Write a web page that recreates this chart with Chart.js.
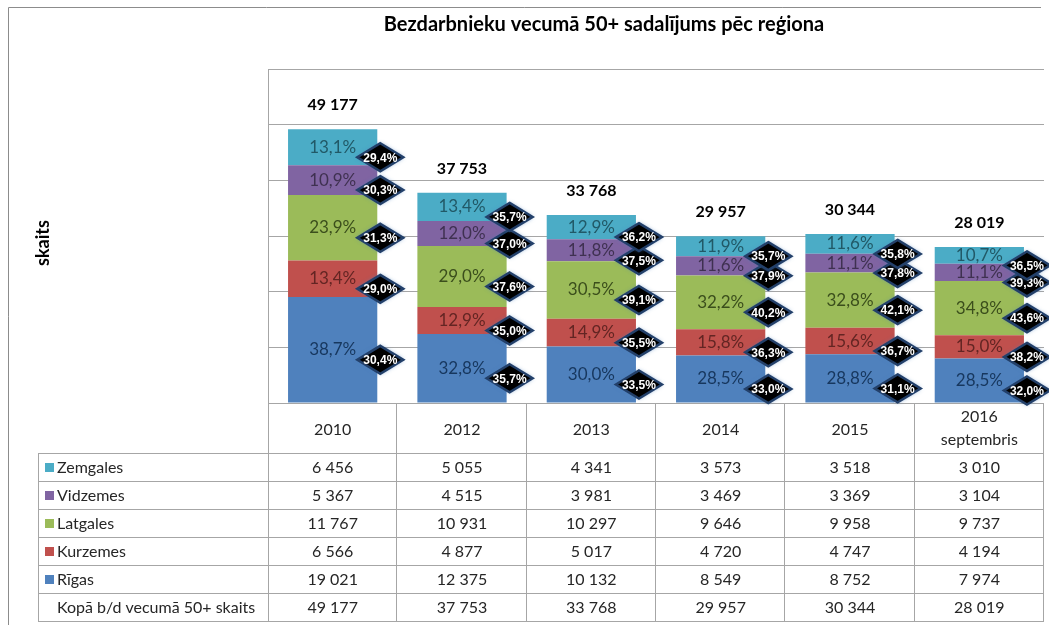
<!DOCTYPE html>
<html>
<head>
<meta charset="utf-8">
<script src="https://cdn.jsdelivr.net/npm/chart.js@4/dist/chart.umd.min.js"></script>
<style>
  body { margin: 0; background: #fff; }
  canvas { display: block; }
</style>
</head>
<body>
<canvas id="regionChart" width="1049" height="625"></canvas>
<script>
// gadi (kolonnas)
var years = ['2010', '2012', '2013', '2014', '2015', ['2016', 'septembris']];

// bezdarbnieku skaits 50+ pa reģioniem
var rigas = [19021, 12375, 10132, 8549, 8752, 7974];
var kurzemes = [6566, 4877, 5017, 4720, 4747, 4194];
var latgales = [11767, 10931, 10297, 9646, 9958, 9737];
var vidzemes = [5367, 4515, 3981, 3469, 3369, 3104];
var zemgales = [6456, 5055, 4341, 3573, 3518, 3010];
var totals = [49177, 37753, 33768, 29957, 30344, 28019];

// reģiona daļa kopskaitā (uzraksti stabiņos)
var rigasShare = [38.7, 32.8, 30.0, 28.5, 28.8, 28.5];
var kurzemesShare = [13.4, 12.9, 14.9, 15.8, 15.6, 15.0];
var latgalesShare = [23.9, 29.0, 30.5, 32.2, 32.8, 34.8];
var vidzemesShare = [10.9, 12.0, 11.8, 11.6, 11.1, 11.1];
var zemgalesShare = [13.1, 13.4, 12.9, 11.9, 11.6, 10.7];

// 50+ daļa reģiona bezdarbniekos (rombi)
var rigas50 = [30.4, 35.7, 33.5, 33.0, 31.1, 32.0];
var kurzemes50 = [29.0, 35.0, 35.5, 36.3, 36.7, 38.2];
var latgales50 = [31.3, 37.6, 39.1, 40.2, 42.1, 43.6];
var vidzemes50 = [30.3, 37.0, 37.5, 37.9, 37.8, 39.3];
var zemgales50 = [29.4, 35.7, 36.2, 35.7, 35.8, 36.5];

var yMax = 60000;
var yStep = 10000;

function fmtNum(n) {
    return String(n).replace(/\B(?=(\d{3})+(?!\d))/g, ' ');
}
function fmtPct(v) {
    return v.toFixed(1).replace('.', ',') + '%';
}

var FONT = 'Lato, "Open Sans", sans-serif';

var series = [
    { label: 'Rīgas', data: rigas, share: rigasShare, part: rigas50, color: '#4F81BD', text: '#17375E' },
    { label: 'Kurzemes', data: kurzemes, share: kurzemesShare, part: kurzemes50, color: '#C0504D', text: '#632523' },
    { label: 'Latgales', data: latgales, share: latgalesShare, part: latgales50, color: '#9BBB59', text: '#3B4E1C' },
    { label: 'Vidzemes', data: vidzemes, share: vidzemesShare, part: vidzemes50, color: '#8064A2', text: '#3F3151' },
    { label: 'Zemgales', data: zemgales, share: zemgalesShare, part: zemgales50, color: '#4BACC6', text: '#215967' }
];

// tabulas rindas no augšas uz leju
var tableRows = [series[4], series[3], series[2], series[1], series[0]];

var decoPlugin = {
    id: 'deco',
    beforeDatasetsDraw: function(chart) {
        var ctx = chart.ctx;
        var area = chart.chartArea;
        var xs = chart.scales.x;
        var colW = area.width / years.length;
        var headH = 50, rowH = 28;
        var tableTop = area.bottom;
        var tableLeft = 38;
        var bottom = tableTop + headH + rowH * (tableRows.length + 1);

        ctx.save();
        // ārējais rāmis
        ctx.strokeStyle = '#8c8c8c';
        ctx.lineWidth = 1;
        ctx.beginPath();
        ctx.moveTo(8.5, 625);
        ctx.lineTo(8.5, 7.5);
        ctx.lineTo(1041, 7.5);
        ctx.stroke();

        // virsraksts
        ctx.fillStyle = '#000';
        ctx.font = 'bold 20px ' + FONT;
        ctx.textAlign = 'center';
        ctx.textBaseline = 'middle';
        ctx.fillText('Bezdarbnieku vecumā 50+ sadalījums pēc reģiona', 604, 25);

        // ass nosaukums
        ctx.save();
        ctx.translate(43, 243);
        ctx.rotate(-Math.PI / 2);
        ctx.font = 'bold 18px ' + FONT;
        ctx.fillText('skaits', 0, 0);
        ctx.restore();

        // tabulas līnijas
        ctx.strokeStyle = '#a6a6a6';
        ctx.beginPath();
        ctx.moveTo(area.left + 0.5, area.top);
        ctx.lineTo(area.left + 0.5, bottom);
        for (var c = 1; c <= years.length; c++) {
            var bx = Math.round(area.left + c * colW) - 0.5;
            ctx.moveTo(bx, tableTop);
            ctx.lineTo(bx, bottom);
        }
        ctx.moveTo(tableLeft + 0.5, tableTop + headH);
        ctx.lineTo(tableLeft + 0.5, bottom);
        for (var r = 0; r <= tableRows.length + 1; r++) {
            var ly = tableTop + headH + r * rowH + 0.5;
            ctx.moveTo(tableLeft, ly);
            ctx.lineTo(area.right, ly);
        }
        ctx.stroke();

        // galvene
        ctx.fillStyle = '#262626';
        ctx.font = '16px ' + FONT;
        years.forEach(function(y, i) {
            var cx = xs.getPixelForValue(i);
            if (Array.isArray(y)) {
                ctx.fillText(y[0], cx, tableTop + 14);
                ctx.fillText(y[1], cx, tableTop + 37);
            } else {
                ctx.fillText(y, cx, tableTop + 27);
            }
        });

        // rindas
        tableRows.forEach(function(s, r) {
            var cy = tableTop + headH + r * rowH + rowH / 2 + 1;
            ctx.fillStyle = s.color;
            ctx.fillRect(45, cy - 5, 9, 9);
            ctx.fillStyle = '#262626';
            ctx.textAlign = 'left';
            ctx.fillText(s.label, 57, cy);
            ctx.textAlign = 'center';
            s.data.forEach(function(v, i) {
                ctx.fillText(fmtNum(v), xs.getPixelForValue(i), cy);
            });
        });
        var ky = tableTop + headH + tableRows.length * rowH + rowH / 2 + 1;
        ctx.textAlign = 'left';
        ctx.fillText('Kopā b/d vecumā 50+ skaits', 57, ky);
        ctx.textAlign = 'center';
        totals.forEach(function(v, i) {
            ctx.fillText(fmtNum(v), xs.getPixelForValue(i), ky);
        });
        ctx.restore();
    },
    afterDatasetsDraw: function(chart) {
        var ctx = chart.ctx;
        var ys = chart.scales.y;
        ctx.save();
        ctx.textAlign = 'center';
        ctx.textBaseline = 'middle';

        // procenti stabiņos
        ctx.font = '17px ' + FONT;
        series.forEach(function(s, d) {
            var meta = chart.getDatasetMeta(d);
            meta.data.forEach(function(bar, i) {
                ctx.fillStyle = s.text;
                ctx.fillText(fmtPct(s.share[i]), bar.x, (bar.y + bar.base) / 2);
            });
        });

        // kopskaits virs stabiņa
        ctx.font = 'bold 16px ' + FONT;
        ctx.fillStyle = '#000';
        totals.forEach(function(v, i) {
            var x = chart.scales.x.getPixelForValue(i);
            ctx.fillText(fmtNum(v), x, ys.getPixelForValue(v) - 24);
        });

        // rombi ar 50+ daļu
        series.forEach(function(s, d) {
            var meta = chart.getDatasetMeta(d);
            meta.data.forEach(function(bar, i) {
                var cx = bar.x + bar.width / 2 + 3;
                var cy = (bar.y + bar.base) / 2 + 10;
                var hw = 23, hh = 14;
                ctx.beginPath();
                ctx.moveTo(cx, cy - hh);
                ctx.lineTo(cx + hw, cy);
                ctx.lineTo(cx, cy + hh);
                ctx.lineTo(cx - hw, cy);
                ctx.closePath();
                ctx.shadowColor = 'rgba(79,129,189,0.8)';
                ctx.shadowBlur = 4;
                ctx.fillStyle = '#000';
                ctx.fill();
                ctx.shadowBlur = 0;
                ctx.strokeStyle = '#23406a';
                ctx.lineWidth = 2.5;
                ctx.stroke();
                ctx.fillStyle = '#fff';
                ctx.font = 'bold 12px "Liberation Sans", sans-serif';
                ctx.fillText(fmtPct(s.part[i]), cx, cy + 1);
            });
        });
        ctx.restore();
    }
};

var ctx = document.getElementById('regionChart').getContext('2d');
var regionChart = new Chart(ctx, {
    type: 'bar',
    data: {
        labels: years,
        datasets: series.map(function(s) {
            return {
                label: s.label,
                data: s.data,
                backgroundColor: s.color,
                borderWidth: 0,
                barPercentage: 0.69,
                categoryPercentage: 1
            };
        })
    },
    options: {
        responsive: false,
        animation: false,
        layout: {
            padding: { left: 268, top: 69, right: 5, bottom: 222 }
        },
        plugins: {
            legend: { display: false },
            tooltip: { enabled: false },
            title: { display: false }
        },
        scales: {
            x: {
                stacked: true,
                display: false
            },
            y: {
                stacked: true,
                min: 0,
                max: yMax,
                ticks: { display: false, stepSize: yStep },
                grid: { color: '#a6a6a6', drawTicks: false },
                border: { display: false },
                afterFit: function(scale) { scale.width = 0; }
            }
        }
    },
    plugins: [decoPlugin]
});
</script>
</body>
</html>
